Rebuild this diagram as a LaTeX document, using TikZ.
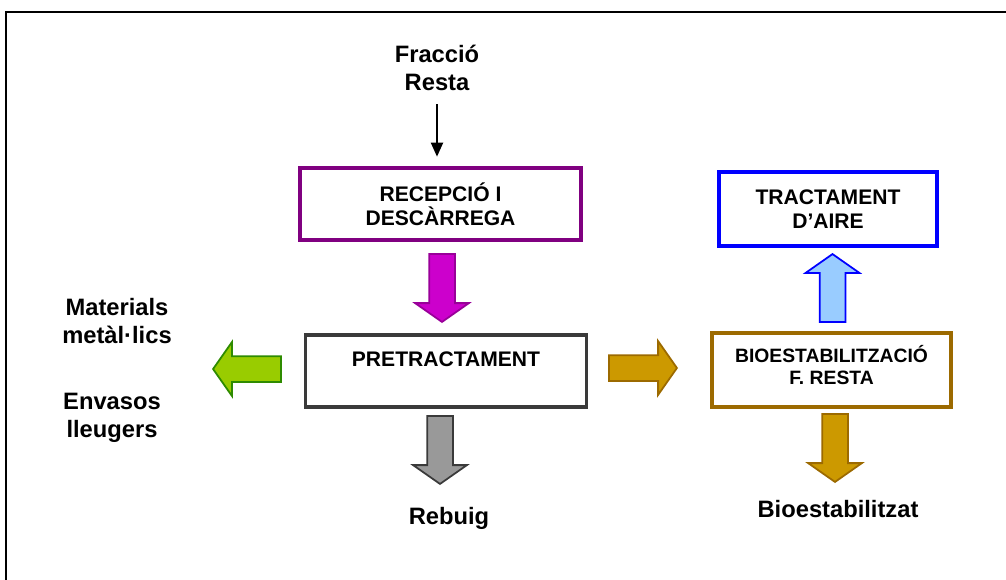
\documentclass[tikz,border=0pt]{standalone}
\usepackage{fontspec}
\setmainfont{Liberation Sans}
\usetikzlibrary{arrows.meta,
                shapes.arrows,
                positioning}

\definecolor{lila}{HTML}{800080}
\definecolor{magenta2}{HTML}{CC00CC}
\definecolor{magentafosc}{HTML}{990099}
\definecolor{grisfosc}{HTML}{3A3A3A}
\definecolor{verd}{HTML}{99CC00}
\definecolor{verdfosc}{HTML}{2E8B00}
\definecolor{or}{HTML}{CC9900}
\definecolor{marro}{HTML}{9C6A00}
\definecolor{blau}{HTML}{0000FF}
\definecolor{blauclar}{HTML}{99CCFF}

\begin{document}
\begin{tikzpicture}[x=0.02cm, y=-0.02cm,
    caixa/.style={draw, line width=2pt, fill=white, align=center,
                  minimum width=5.62cm, minimum height=1.44cm,
                  font=\fontsize{12}{13.5}\selectfont\bfseries},
    etiqueta/.style={align=center, font=\fontsize{13.5}{16.3}\selectfont\bfseries},
    fletxa/.style={single arrow, draw, line width=1pt, inner sep=0.24cm, anchor=tip,
                   minimum height=1.36cm,
                   single arrow head extend=0.28cm, single arrow tip angle=110}]
    \useasboundingbox (0,0) rectangle (1006,579);
    \clip (0,0) rectangle (1006,579);
    % marc
    \draw[line width=1.2pt] (6,620) -- (6,12) -- (1030,12);

    \node [etiqueta] (fraccio) at (437,68) {Fracció\\Resta};
    \node [caixa, draw=lila] (recep) at (440.5,204) {RECEPCIÓ I\\DESCÀRREGA};
    \node [caixa, draw=grisfosc] (pre) at (446,371) {PRETRACTAMENT\\\mbox{}};
    \node [caixa, draw=marro, minimum width=4.78cm, minimum height=1.48cm,
           font=\fontsize{11}{12.5}\selectfont\bfseries] (bio) at (831.5,370) {BIOESTABILITZACIÓ\\F. RESTA\\[-7pt]\mbox{}};
    \node [caixa, draw=blau, minimum width=4.36cm, minimum height=1.48cm] (aire) at (828,209) {TRACTAMENT\\D’AIRE};

    \node [etiqueta] (metalls) at (117,321) {Materials\\metàl·lics};
    \node [etiqueta] (envasos) at (112,418) {Envasos\\lleugers};
    \node [etiqueta] (rebuig) at (449,518) {Rebuig};
    \node [etiqueta] (bioest) at (838,509) {Bioestabilitzat};

    \draw [-{Triangle[length=8pt,width=7pt]}, line width=0.8pt, shorten >=5.5pt, shorten <=4pt]
        (fraccio.south) -- (fraccio.south |- recep.north);

    % fletxes grosses (posades per la punta)
    \node [fletxa, shape border rotate=270, fill=magenta2, draw=magentafosc] (f1) at (442,323) {};
    \node [fletxa, shape border rotate=180, fill=verd, draw=verdfosc] (f2) at (212,369) {};
    \node [fletxa, shape border rotate=270, fill=gray!80, draw=grisfosc] (f3) at (440,485) {};
    \node [fletxa, fill=or, draw=marro] (f4) at (678,368) {};
    \node [fletxa, shape border rotate=90, fill=blauclar, draw=blau] (f5) at (832.5,253) {};
    \node [fletxa, shape border rotate=270, fill=or, draw=marro] (f6) at (835,483) {};
\end{tikzpicture}
\end{document}
